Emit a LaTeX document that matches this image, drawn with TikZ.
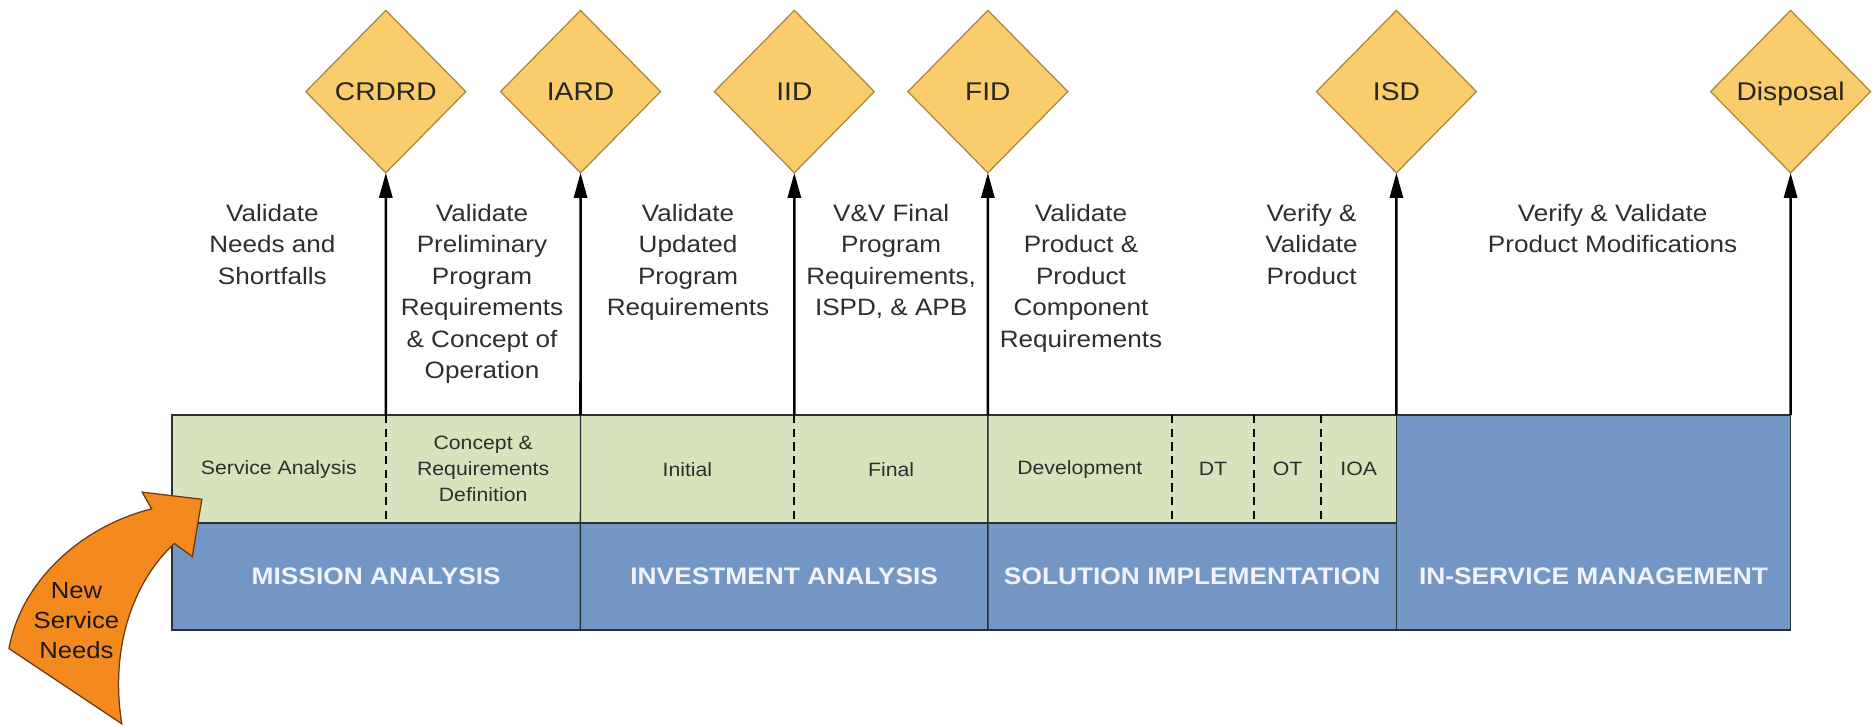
\documentclass[tikz,border=0pt]{standalone}
\usepackage{fontspec}
\setmainfont{Liberation Sans}[FakeStretch=1.1]
\usetikzlibrary{shapes.geometric,arrows.meta}
\definecolor{phasegreen}{HTML}{D7E3BC}
\definecolor{phaseblue}{HTML}{7396C4}
\definecolor{gatefill}{HTML}{FACC6B}
\definecolor{gateedge}{HTML}{A8873F}
\definecolor{needorange}{HTML}{F48A1E}
\definecolor{neededge}{HTML}{6B3A12}
\definecolor{textgray}{HTML}{2E2E2E}
\definecolor{framegray}{HTML}{2B2F36}

\begin{document}
\begin{tikzpicture}[x=0.02cm,y=-0.02cm,inner sep=0pt,outer sep=0pt,
  gate/.style={diamond,draw=gateedge,fill=gatefill,line width=0.6pt,minimum width=2.68cm,minimum height=2.72cm,text height=8.8pt,text depth=0pt,font=\fontsize{12.2}{14}\selectfont,text=black!85},
  subcell/.style={anchor=north west,fill=phasegreen,minimum height=1.81cm,align=center,font=\fontsize{9.2}{12.3}\selectfont,text=textgray},
  phasecell/.style={anchor=north west,fill=phaseblue,minimum height=1.79cm,font=\fontsize{11.4}{14}\selectfont\bfseries,text=white!95!blue},
  note/.style={anchor=north,align=center,font=\fontsize{11.3}{15}\selectfont,text=textgray},
  frame/.style={draw=framegray,line width=0.7pt},
  divider/.style={draw=black,line width=0.8pt,dash pattern=on 4pt off 2.5pt},
  gatearrow/.style={draw=black,line width=1.2pt,-{Triangle[length=0.42cm,width=0.22cm]}}]
  \useasboundingbox (0,0) rectangle (1568,607);
  % 
  \node[subcell,minimum width=3.58cm] (sa) at (144,347.5) {Service Analysis};
  \node[subcell,minimum width=3.26cm] (crd) at (323,347.5) {Concept \&\\Requirements\\Definition};
  \node[subcell,minimum width=3.58cm] (ini) at (486,347.5) {Initial};
  \node[subcell,minimum width=3.24cm] (fin) at (665,347.5) {Final};
  \node[subcell,minimum width=3.08cm] (dev) at (827,347.5) {Development};
  \node[subcell,minimum width=1.38cm] (dt) at (981,347.5) {DT};
  \node[subcell,minimum width=1.12cm] (ot) at (1050,347.5) {OT};
  \node[subcell,minimum width=1.26cm] (ioa) at (1106,347.5) {IOA};
  % 
  \node[phasecell,minimum width=6.84cm] (ma) at (144,438) {MISSION ANALYSIS};
  \node[phasecell,minimum width=6.82cm] (ia) at (486,438) {INVESTMENT ANALYSIS};
  \node[phasecell,minimum width=6.84cm] (si) at (827,438) {SOLUTION IMPLEMENTATION};
  \node[phasecell,minimum width=6.6cm,minimum height=3.6cm] (ism) at (1169,347.5) {};
  \node[font=\fontsize{11.4}{14}\selectfont\bfseries,text=white!95!blue] (ism_txt) at (1334,482.5) {IN-SERVICE MANAGEMENT};
  % 
  \draw[frame] (sa.north west) rectangle (si.south east);
  \draw[frame] (sa.south west) -- (ioa.south east);
  \draw[frame] (ism.north west) rectangle (ism.south east);
  \draw[frame] (crd.north east) -- (ma.south east);
  \draw[frame] (fin.north east) -- (ia.south east);
  \draw[divider] (sa.north east) -- (sa.south east);
  \draw[divider] (ini.north east) -- (ini.south east);
  \draw[divider] (dev.north east) -- (dev.south east);
  \draw[divider] (dt.north east) -- (dt.south east);
  \draw[divider] (ot.north east) -- (ot.south east);
  % 
  \node[gate] (crdrd) at (323,76.7) {CRDRD};
  \node[gate] (iard) at (486,76.7) {IARD};
  \node[gate] (iid) at (665,76.7) {IID};
  \node[gate] (fid) at (827,76.7) {FID};
  \node[gate] (isd) at (1169,76.7) {ISD};
  \node[gate] (disposal) at (1499,76.7) {Disposal};
  \draw[gatearrow] (sa.north east) -- (crdrd.south);
  \draw[gatearrow] (crd.north east) -- (iard.south);
  \draw[gatearrow] (ini.north east) -- (iid.south);
  \draw[gatearrow] (fin.north east) -- (fid.south);
  \draw[gatearrow] (ioa.north east) -- (isd.south);
  \draw[gatearrow] (ism.north east) -- (disposal.south);
  % 
  \node[note] (v_needs) at (228,171) {Validate\\Needs and\\Shortfalls};
  \node[note] (v_prelim) at (403.5,171) {Validate\\Preliminary\\Program\\Requirements\\\& Concept of\\Operation};
  \node[note] (v_updated) at (576,171) {Validate\\Updated\\Program\\Requirements};
  \node[note] (vv_final) at (746,171) {V\&V Final\\Program\\Requirements,\\ISPD, \& APB};
  \node[note] (v_product) at (905,171) {Validate\\Product \&\\Product\\Component\\Requirements};
  \node[note] (vv_product) at (1098,171) {Verify \&\\Validate\\Product};
  \node[note] (vv_mods) at (1350,171) {Verify \& Validate\\Product Modifications};
  % 
  \draw[fill=needorange,draw=neededge,line width=0.6pt] (7.5,543) .. controls (18,485) and (70,440) .. (127,426) -- (119,412) -- (169,418) -- (161,466) -- (146,455) .. controls (110,488) and (92,545) .. (102,606) -- cycle;
  \node[note,font=\fontsize{11.1}{14.3}\selectfont,text=black!90] (new_needs) at (64,488) {New\\Service\\Needs};
\end{tikzpicture}
\end{document}
